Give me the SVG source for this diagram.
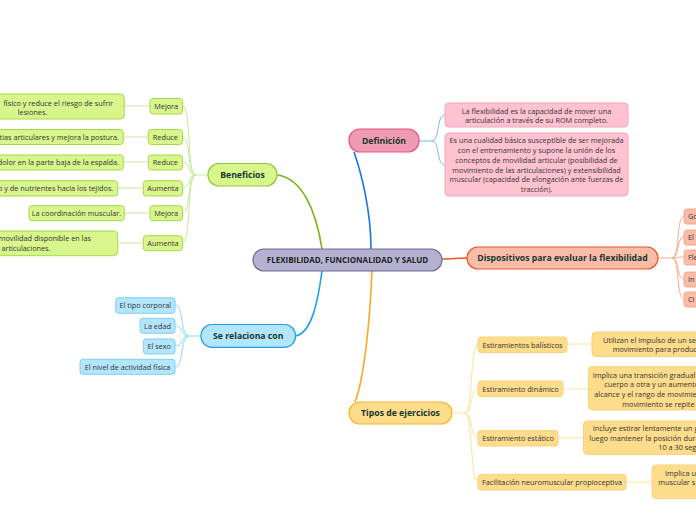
<svg xmlns="http://www.w3.org/2000/svg" width="696" height="520" viewBox="0 0 696 520">
<style>
text{font-family:"Open Sans","Noto Sans","Liberation Sans",sans-serif;}
.t{font-size:8.7px;font-weight:bold;fill:#17382e;text-anchor:middle;}
.c{font-size:8px;font-weight:bold;fill:#222;text-anchor:middle;}
.l{font-size:7.3px;fill:#333;text-anchor:middle;}
.ls{font-size:7.3px;fill:#333;text-anchor:start;}
.le{font-size:7.3px;fill:#333;text-anchor:end;}
.g{fill:#d8f68c;stroke:#a6d94a;stroke-width:1;}
.gm{fill:#d8f68c;stroke:#8cc63f;stroke-width:1.2;}
.b{fill:#b3e5fc;stroke:#7fd0f7;stroke-width:1;}
.bm{fill:#b3e5fc;stroke:#1ea0e6;stroke-width:1.2;}
.p{fill:#ffc2d0;stroke:#f7a3b8;stroke-width:1;}
.pm{fill:#f19ab3;stroke:#e0587c;stroke-width:1.2;}
.o{fill:#f9bca9;stroke:#f5a88c;stroke-width:1;}
.om{fill:#f9bca9;stroke:#f4511e;stroke-width:1.2;}
.y{fill:#fddc8c;stroke:#fbd27a;stroke-width:1;}
.ym{fill:#fddc8c;stroke:#f9b529;stroke-width:1.2;}
.cm{fill:#b4b2d0;stroke:#6d6a8e;stroke-width:1.2;}
.k path{fill:none;}
</style>
<rect width="696" height="520" fill="#fff"/>
<g id="connectors" class="k">
<path d="M371,249 C371,210 361,172 354,152" stroke="#1a73e8" stroke-width="1.6"/>
<path d="M322,249 C316,210 302,178 277,175" stroke="#7cb518" stroke-width="1.6"/>
<path d="M322,271 C318,300 312,334 295,336" stroke="#1da1f2" stroke-width="1.6"/>
<path d="M372,271 C370,320 364,380 355,402" stroke="#f9a825" stroke-width="1.6"/>
<path d="M442,259 C452,259 457,258 467,258" stroke="#f4511e" stroke-width="1.6"/>
<g stroke="#7ab3f5" stroke-width="1">
<path d="M419,141 L432,141 C440,141 436,115 445,115"/>
<path d="M432,141 C440,141 436,165 445,165"/>
</g>
<g stroke="#c9e89a" stroke-width="1">
<path d="M208,175 L196,175"/>
<path d="M196,175 C186,175 192,106 182,106"/>
<path d="M196,175 C186,175 192,137 182,137"/>
<path d="M196,175 C186,175 192,162 182,162"/>
<path d="M196,175 C186,175 192,188 182,188"/>
<path d="M196,175 C186,175 192,213 182,213"/>
<path d="M196,175 C186,175 192,243 182,243"/>
<path d="M150,106 L124,106"/>
<path d="M148,137 L123,137"/>
<path d="M148,162 L123,162"/>
<path d="M143,188 L118,188"/>
<path d="M150,213 L124,213"/>
<path d="M143,243 L118,243"/>
</g>
<g stroke="#8dd6f8" stroke-width="1">
<path d="M201,336 L189,336"/>
<path d="M189,336 C180,336 184,305 175,305"/>
<path d="M189,336 C180,336 184,326 175,326"/>
<path d="M189,336 C180,336 184,346 175,346"/>
<path d="M189,336 C180,336 184,367 175,367"/>
</g>
<g stroke="#f9ab8e" stroke-width="1">
<path d="M658,258 L672,258"/>
<path d="M672,258 C680,258 676,216 684,216"/>
<path d="M672,258 C680,258 676,237 684,237"/>
<path d="M672,258 C680,258 676,257 684,257"/>
<path d="M672,258 C680,258 676,279 684,279"/>
<path d="M672,258 C680,258 676,299 684,299"/>
</g>
<g stroke="#fde29a" stroke-width="1">
<path d="M453,413 L465,413"/>
<path d="M465,413 C473,413 470,344 478,344"/>
<path d="M465,413 C473,413 470,389 478,389"/>
<path d="M465,413 C473,413 470,438 478,438"/>
<path d="M465,413 C473,413 470,482 478,482"/>
<path d="M567,344 L592,344"/>
<path d="M563,389 L588,389"/>
<path d="M558,438 L583,438"/>
<path d="M626,482 L652,482"/>
</g>
</g>
<g id="central"><rect class="cm" x="253" y="249" width="189" height="22" rx="11"/><text class="c" x="347.5" y="262.8">FLEXIBILIDAD, FUNCIONALIDAD Y SALUD</text></g>
<g id="definicion"><rect class="pm" x="349" y="129" width="70" height="23" rx="11"/><text class="t" x="384" y="143.5">Definición</text></g>
<g id="def1"><rect class="p" x="445" y="103" width="183" height="24" rx="4"/><text class="l" x="536.5" y="114.2">La flexibilidad es la capacidad de mover una</text><text class="l" x="536.5" y="123.2">articulación a través de su ROM completo.</text></g>
<g id="def2"><rect class="p" x="445" y="133" width="183" height="63" rx="4"/>
<text class="l" x="536.5" y="143.2">Es una cualidad básica susceptible de ser mejorada</text>
<text class="l" x="536.5" y="153">con el entrenamiento y supone la unión de los</text>
<text class="l" x="536.5" y="162.8">conceptos de movilidad articular (posibilidad de</text>
<text class="l" x="536.5" y="172.6">movimiento de las articulaciones) y extensibilidad</text>
<text class="l" x="536.5" y="182.4">muscular (capacidad de elongación ante fuerzas de</text>
<text class="l" x="536.5" y="192.2">tracción).</text></g>
<g id="dispositivos"><rect class="om" x="467" y="247" width="191" height="22" rx="11"/><text class="t" x="562.5" y="261.2">Dispositivos para evaluar la flexibilidad</text></g>
<g id="disp1"><rect class="o" x="684" y="209" width="30" height="15" rx="3"/><text class="ls" x="688" y="219">Go</text></g>
<g id="disp2"><rect class="o" x="684" y="230" width="30" height="15" rx="3"/><text class="ls" x="688" y="240">El</text></g>
<g id="disp3"><rect class="o" x="684" y="250" width="30" height="15" rx="3"/><text class="ls" x="688" y="260">Fle</text></g>
<g id="disp4"><rect class="o" x="684" y="272" width="30" height="15" rx="3"/><text class="ls" x="688" y="282">In</text></g>
<g id="disp5"><rect class="o" x="684" y="292" width="30" height="15" rx="3"/><text class="ls" x="688" y="302">Ci</text></g>
<g id="tipos"><rect class="ym" x="349" y="402" width="103" height="22" rx="11"/><text class="t" x="400.5" y="416.2">Tipos de ejercicios</text></g>
<g id="tipo1"><rect class="y" x="478" y="337" width="89" height="15.5" rx="3"/><text class="l" x="522.5" y="347.5">Estiramientos balísticos</text></g>
<g id="tipo2"><rect class="y" x="478" y="381" width="85" height="15.5" rx="3"/><text class="l" x="520.5" y="391.5">Estiramiento dinámico</text></g>
<g id="tipo3"><rect class="y" x="478" y="430.5" width="80" height="15.5" rx="3"/><text class="l" x="518" y="441">Estiramiento estático</text></g>
<g id="tipo4"><rect class="y" x="478" y="474.5" width="148" height="15.5" rx="3"/><text class="l" x="552" y="485">Facilitación neuromuscular propioceptiva</text></g>
<g id="tipo1d"><rect class="y" x="592" y="332" width="120" height="24.5" rx="4"/><text class="ls" x="603" y="342.7">Utilizan el impulso de un se</text><text class="ls" x="612.7" y="352">movimiento para produc</text></g>
<g id="tipo2d"><rect class="y" x="588.5" y="366.5" width="120" height="43.5" rx="4"/><text class="ls" x="592.7" y="377.7">Implica una transición gradual</text><text class="ls" x="604.3" y="387">cuerpo a otra y un aumento</text><text class="ls" x="594.3" y="396.7">alcance y el rango de movimie</text><text class="ls" x="622.3" y="406.7">movimiento se repite</text></g>
<g id="tipo3d"><rect class="y" x="583.5" y="421" width="120" height="33.5" rx="4"/><text class="ls" x="592.7" y="431">Incluye estirar lentamente un g</text><text class="ls" x="589.3" y="441">luego mantener la posición dura</text><text class="ls" x="658.3" y="450.4">10 a 30 segund</text></g>
<g id="tipo4d"><rect class="y" x="652" y="465" width="60" height="33.5" rx="4"/><text class="ls" x="665" y="476">Implica u</text><text class="ls" x="658.3" y="485">muscular s</text></g>
<g id="beneficios"><rect class="gm" x="208" y="163.5" width="69" height="22.5" rx="11"/><text class="t" x="242.5" y="177.8">Beneficios</text></g>
<g id="ben1"><rect class="g" x="150" y="98.5" width="32.5" height="15.5" rx="3"/><text class="l" x="166.2" y="109">Mejora</text></g>
<g id="ben2"><rect class="g" x="148.3" y="129.5" width="34.2" height="15" rx="3"/><text class="l" x="165.4" y="139.7">Reduce</text></g>
<g id="ben3"><rect class="g" x="148.3" y="155" width="34.2" height="15" rx="3"/><text class="l" x="165.4" y="165.2">Reduce</text></g>
<g id="ben4"><rect class="g" x="143.3" y="180.7" width="39.2" height="15.3" rx="3"/><text class="l" x="162.9" y="191">Aumenta</text></g>
<g id="ben5"><rect class="g" x="150" y="205.7" width="32.5" height="15" rx="3"/><text class="l" x="166.2" y="215.9">Mejora</text></g>
<g id="ben6"><rect class="g" x="143.3" y="235.7" width="39.2" height="15" rx="3"/><text class="l" x="162.9" y="245.9">Aumenta</text></g>
<g id="ben1d"><rect class="g" x="-60" y="94" width="184.3" height="25" rx="4"/><text class="le" x="113" y="105.5">físico y reduce el riesgo de sufrir</text><text class="l" x="32.5" y="114.8">lesiones.</text></g>
<g id="ben2d"><rect class="g" x="-60" y="129.5" width="183.3" height="15" rx="3"/><text class="le" x="119" y="139.5">tias articulares y mejora la postura.</text></g>
<g id="ben3d"><rect class="g" x="-60" y="155" width="183.3" height="15" rx="3"/><text class="le" x="119" y="165">dolor en la parte baja de la espalda.</text></g>
<g id="ben4d"><rect class="g" x="-60" y="180.7" width="177.7" height="15.3" rx="3"/><text class="le" x="113.3" y="191">o y de nutrientes hacia los tejidos.</text></g>
<g id="ben5d"><rect class="g" x="29" y="205.7" width="95.3" height="15" rx="3"/><text class="l" x="76.5" y="215.8">La coordinación muscular.</text></g>
<g id="ben6d"><rect class="g" x="-60" y="231" width="177.7" height="24.7" rx="4"/><text class="le" x="91" y="241.4">movilidad disponible en las</text><text class="l" x="26" y="251.2">articulaciones.</text></g>
<g id="relaciona"><rect class="bm" x="201" y="324.5" width="94.5" height="22.8" rx="11"/><text class="t" x="248.2" y="339">Se relaciona con</text></g>
<g id="rel1"><rect class="b" x="115.7" y="297.7" width="59.3" height="15.6" rx="3"/><text class="l" x="145.3" y="308">El tipo corporal</text></g>
<g id="rel2"><rect class="b" x="140" y="318.3" width="35" height="15" rx="3"/><text class="l" x="157.5" y="328.5">La edad</text></g>
<g id="rel3"><rect class="b" x="143.3" y="339" width="31.7" height="15" rx="3"/><text class="l" x="159.2" y="349.2">El sexo</text></g>
<g id="rel4"><rect class="b" x="80" y="359.3" width="95" height="15" rx="3"/><text class="l" x="127.5" y="369.5">El nivel de actividad física</text></g>
</svg>
